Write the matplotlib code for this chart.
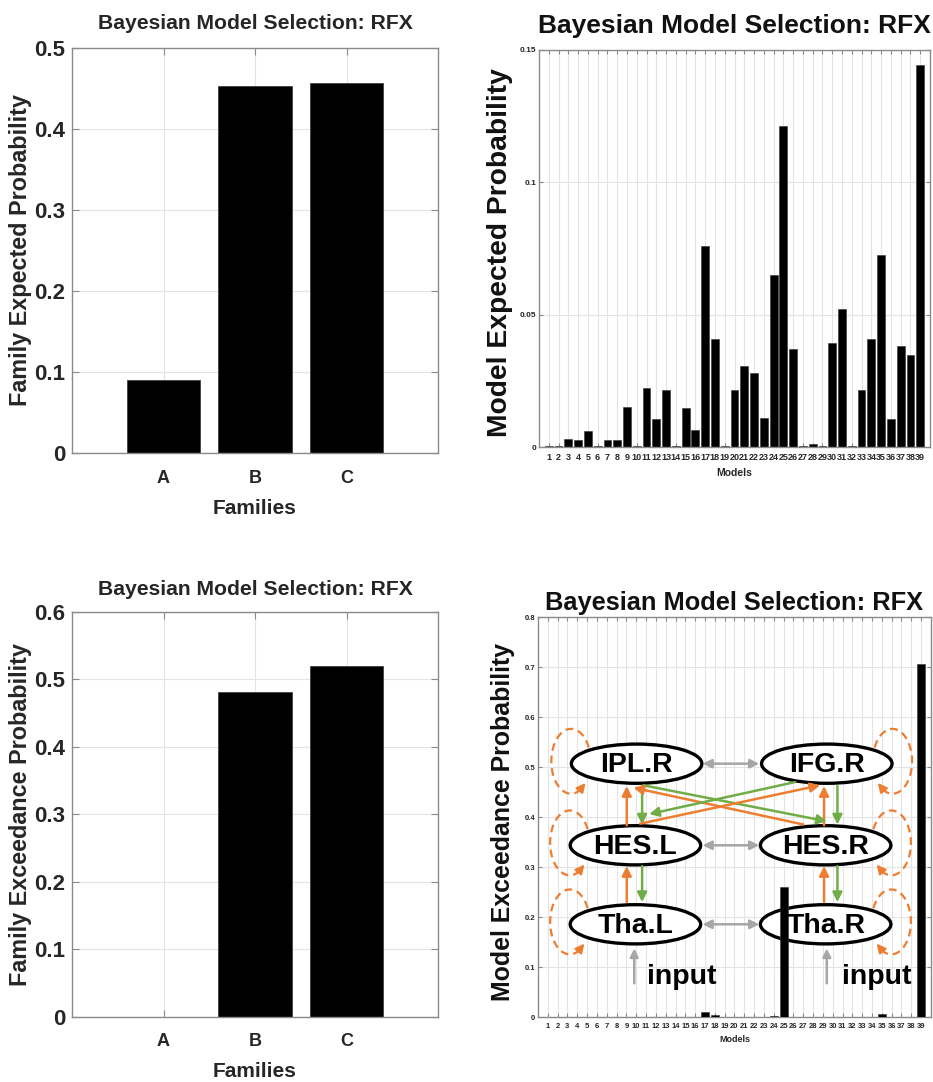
import numpy as np
import matplotlib
matplotlib.use('Agg')
import matplotlib.pyplot as plt
from matplotlib.patches import Ellipse, FancyArrowPatch

plt.rcParams['font.family'] = ['Liberation Sans', 'DejaVu Sans']
plt.rcParams['font.weight'] = 'bold'
plt.rcParams['axes.titleweight'] = 'bold'
plt.rcParams['axes.labelweight'] = 'bold'

# ---------------- data ----------------
families = ['A', 'B', 'C']
family_expected = [0.0905, 0.4535, 0.4568]
family_exceedance = [0.0, 0.4805, 0.5195]

models = list(range(1, 40))
model_expected = [0.0004, 0.0004, 0.0032, 0.0029, 0.0061, 0.0004, 0.0029, 0.0029,
                  0.0152, 0.0005, 0.0222, 0.0105, 0.0218, 0.0004, 0.0148, 0.0064,
                  0.0761, 0.0409, 0.0004, 0.0218, 0.0306, 0.0279, 0.0111, 0.0650,
                  0.1214, 0.0371, 0.0004, 0.0011, 0.0005, 0.0393, 0.0524, 0.0004,
                  0.0218, 0.0407, 0.0726, 0.0105, 0.0384, 0.0347, 0.1442]
model_exceedance = [0, 0, 0, 0, 0, 0, 0, 0, 0, 0, 0, 0, 0, 0, 0, 0,
                    0.0115, 0.004, 0, 0, 0, 0.0015, 0, 0.003,
                    0.261, 0, 0, 0, 0, 0, 0.001, 0,
                    0, 0, 0.0075, 0, 0, 0, 0.7066]

title = 'Bayesian Model Selection: RFX'
node_names = ['IPL.R', 'IFG.R', 'HES.L', 'HES.R', 'Tha.L', 'Tha.R']

TXT = '#262626'
AXC = '#8a8a8a'
GRID = '#e4e4e4'
ORANGE = '#ED7D31'
GREEN = '#70AD47'
GRAY = '#A6A6A6'

fig = plt.figure(figsize=(9.33, 10.82), dpi=100)


def style(ax, ytick_fs, xtick_fs, tick_len, xpad, ypad):
    ax.set_axisbelow(True)
    ax.grid(True, color=GRID, lw=0.8)
    for s in ax.spines.values():
        s.set_color(AXC)
        s.set_linewidth(1.0)
    ax.tick_params(direction='in', top=True, right=True, color=AXC,
                   length=tick_len, width=0.8)
    ax.tick_params(axis='y', labelsize=ytick_fs, labelcolor=TXT, pad=ypad)
    ax.tick_params(axis='x', labelsize=xtick_fs, labelcolor=TXT, pad=xpad)
    for lab in ax.get_xticklabels() + ax.get_yticklabels():
        lab.set_fontweight('bold')


# ---------- top-left ----------
ax1 = fig.add_axes([0.0772, 0.5813, 0.3923, 0.3743])
x = np.arange(1, len(families) + 1)
ax1.bar(x, family_expected, width=0.8, color='black', edgecolor='#333333', lw=0.5, zorder=2)
ax1.set_xlim(0, 4)
ax1.set_ylim(0, 0.5)
ax1.set_xticks(x)
ax1.set_xticklabels(families)
ax1.set_yticks([0, 0.1, 0.2, 0.3, 0.4, 0.5])
ax1.set_yticklabels(['0', '0.1', '0.2', '0.3', '0.4', '0.5'])
style(ax1, 16, 13, 5, 12, 5)
ax1.set_title(title, fontsize=15.2, color=TXT, pad=14)
ax1.set_xlabel('Families', fontsize=15, color=TXT)
ax1.set_ylabel('Family Expected Probability', fontsize=16.8, color=TXT)
ax1.xaxis.set_label_coords(0.5, -0.114)
ax1.yaxis.set_label_coords(-0.110, 0.5)

# ---------- bottom-left ----------
ax3 = fig.add_axes([0.0772, 0.0604, 0.3923, 0.3743])
ax3.bar(x, family_exceedance, width=0.8, color='black', edgecolor='#333333', lw=0.5, zorder=2)
ax3.set_xlim(0, 4)
ax3.set_ylim(0, 0.6)
ax3.set_xticks(x)
ax3.set_xticklabels(families)
ax3.set_yticks([0, 0.1, 0.2, 0.3, 0.4, 0.5, 0.6])
ax3.set_yticklabels(['0', '0.1', '0.2', '0.3', '0.4', '0.5', '0.6'])
style(ax3, 16, 13, 5, 12, 5)
ax3.set_title(title, fontsize=15.2, color=TXT, pad=12)
ax3.set_xlabel('Families', fontsize=15, color=TXT)
ax3.set_ylabel('Family Exceedance Probability', fontsize=16.8, color=TXT)
ax3.xaxis.set_label_coords(0.5, -0.111)
ax3.yaxis.set_label_coords(-0.110, 0.5)

# ---------- top-right ----------
ax2 = fig.add_axes([0.5777, 0.5866, 0.4191, 0.3672])
ax2.bar(models, model_expected, width=0.8, color='black', edgecolor='#333333', lw=0.4, zorder=2)
ax2.set_xlim(0, 40)
ax2.set_ylim(0, 0.15)
ax2.set_xticks(models)
ax2.set_xticklabels([str(m) for m in models])
ax2.set_yticks([0, 0.05, 0.1, 0.15])
ax2.set_yticklabels(['0', '0.05', '0.1', '0.15'])
style(ax2, 6, 6.5, 3, 4, 2)
ax2.set_title(title, fontsize=19, color='#111111', pad=12)
ax2.set_xlabel('Models', fontsize=7.5, color=TXT)
ax2.set_ylabel('Model Expected Probability', fontsize=20.3, color='#111111')
ax2.xaxis.set_label_coords(0.5, -0.051)
ax2.yaxis.set_label_coords(-0.0665, 0.489)

# ---------- bottom-right ----------
ax4 = fig.add_axes([0.5766, 0.0598, 0.4212, 0.3697])
ax4.bar(models, model_exceedance, width=0.8, color='black', edgecolor='#333333', lw=0.4, zorder=3)
ax4.set_xlim(0, 40)
ax4.set_ylim(0, 0.8)
ax4.set_xticks(models)
ax4.set_xticklabels([str(m) for m in models])
ax4.set_yticks(np.round(np.arange(0, 0.81, 0.1), 1))
ax4.set_yticklabels(['0', '0.1', '0.2', '0.3', '0.4', '0.5', '0.6', '0.7', '0.8'])
style(ax4, 5.5, 5.5, 3, 4, 2)
ax4.set_title(title, fontsize=18.3, color='#111111', pad=5)
ax4.set_xlabel('Models', fontsize=6.5, color=TXT)
ax4.set_ylabel('Model Exceedance Probability', fontsize=17.9, color='#111111')
ax4.xaxis.set_label_coords(0.5, -0.044)
ax4.yaxis.set_label_coords(-0.0585, 0.488)

# ---------- network diagram overlay (axes-fraction coordinates) ----------
T = ax4.transAxes
node_pos = {
    'IPL.R': (0.251, 0.634), 'IFG.R': (0.735, 0.634),
    'HES.L': (0.248, 0.430), 'HES.R': (0.732, 0.430),
    'Tha.L': (0.248, 0.2325), 'Tha.R': (0.732, 0.2325),
}
EW, EH = 0.332, 0.098
for name in node_names:
    cx, cy = node_pos[name]
    ax4.add_patch(Ellipse((cx, cy), EW, EH, transform=T, facecolor='white',
                          edgecolor='black', lw=2.4, zorder=2))
    ax4.text(cx, cy - 0.004, name, transform=T, ha='center', va='center',
             fontsize=20.5, fontweight='bold', color='black', zorder=5)


def arrow(p0, p1, color, style='-|>', lw=1.8, ms=14):
    ax4.add_patch(FancyArrowPatch(p0, p1, transform=T, arrowstyle=style,
                                  color=color, lw=lw, mutation_scale=ms,
                                  shrinkA=0, shrinkB=0, zorder=4))


# lateral grey double arrows
for yy in (0.634, 0.430, 0.2325):
    arrow((0.419, yy), (0.563, yy), GRAY, style='<|-|>', lw=1.8, ms=13)

# input arrows
for xx in (0.245, 0.735):
    arrow((xx, 0.085), (xx, 0.172), GRAY, lw=1.8, ms=12)
ax4.text(0.277, 0.101, 'input', transform=T, ha='left', va='center',
         fontsize=20.5, fontweight='bold', color='black', zorder=5)
ax4.text(0.773, 0.101, 'input', transform=T, ha='left', va='center',
         fontsize=20.5, fontweight='bold', color='black', zorder=5)

# vertical orange (up) / green (down) arrows
for ox, gx in ((0.226, 0.265), (0.728, 0.762)):
    arrow((ox, 0.288), (ox, 0.378), ORANGE)
    arrow((gx, 0.378), (gx, 0.288), GREEN)
    arrow((ox, 0.480), (ox, 0.578), ORANGE)
    arrow((gx, 0.578), (gx, 0.482), GREEN)

# crossing diagonals
arrow((0.268, 0.580), (0.735, 0.490), GREEN)
arrow((0.675, 0.482), (0.243, 0.574), ORANGE)
arrow((0.654, 0.588), (0.283, 0.508), GREEN)
arrow((0.260, 0.484), (0.718, 0.580), ORANGE)


# dashed self loops (parametric ellipse arcs drawn as dashed lines)
def self_loop(cx, cy, side):
    rx, ry = 0.050, 0.081
    lx = cx + side * 0.167
    ly = cy + 0.006
    if side < 0:
        t = np.radians(np.linspace(25, 318, 120))
    else:
        t = np.radians(np.linspace(155, -138, 120))
    px = lx + rx * np.cos(t)
    py = ly + ry * np.sin(t)
    ax4.plot(px[:-4], py[:-4], transform=T, color=ORANGE, lw=1.6,
             linestyle=(0, (3.5, 2.2)), zorder=4, solid_capstyle='butt')
    arrow((px[-10], py[-10]), (px[-1], py[-1]), ORANGE, lw=1.6, ms=13)


for name in node_names:
    cx, cy = node_pos[name]
    self_loop(cx, cy, -1 if name in ('IPL.R', 'HES.L', 'Tha.L') else 1)

fig.savefig('out.png', dpi=100, facecolor='white')
